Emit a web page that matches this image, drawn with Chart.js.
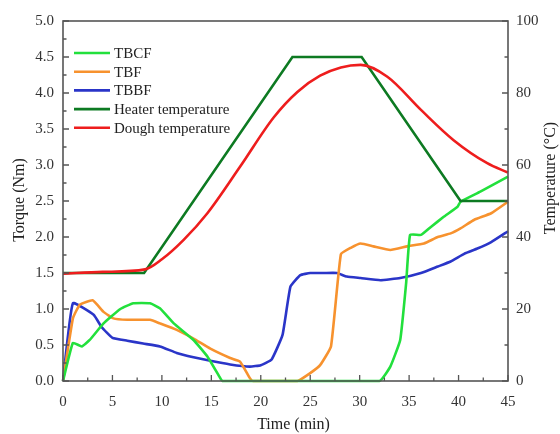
<!DOCTYPE html>
<html>
<head>
<meta charset="utf-8">
<script src="https://cdn.jsdelivr.net/npm/chart.js@4.4.0/dist/chart.umd.min.js"></script>
<style>
  html, body { margin: 0; padding: 0; background: #fff; }
  #wrap { width: 560px; height: 434px; }
</style>
</head>
<body>
<div id="wrap"><canvas id="torqueChart" width="560" height="434"></canvas></div>
<script>
// torque traces (Nm) against time (min)
const timeTBCF = [0, 1, 1.9, 2.7, 4.1, 5.8, 7.1, 8.8, 9.8, 11.2, 13.2, 14.6, 15.9, 16.1, 32.0, 33.1, 34.1, 34.7, 35.1, 36.2, 37.2, 38.5, 39.9, 40.2, 42.2, 45];
const torqueTBCF = [0, 0.53, 0.48, 0.57, 0.80, 1.00, 1.08, 1.08, 1.01, 0.80, 0.57, 0.34, 0.04, 0, 0, 0.20, 0.57, 1.36, 2.03, 2.03, 2.14, 2.28, 2.42, 2.49, 2.63, 2.84];

const timeTBF = [0, 1, 1.7, 3.0, 4.1, 5.1, 6.5, 8.8, 9.8, 11.5, 13.2, 14.9, 16.9, 17.9, 18.9, 19.2, 23.7, 25, 26, 27.1, 28.1, 29.1, 30.1, 31.4, 33.1, 34.8, 36.5, 37.9, 39.2, 40.2, 41.6, 43.3, 45];
const torqueTBF = [0, 0.87, 1.06, 1.12, 0.96, 0.87, 0.85, 0.85, 0.80, 0.71, 0.59, 0.45, 0.32, 0.27, 0.04, 0, 0, 0.11, 0.22, 0.48, 1.76, 1.85, 1.91, 1.87, 1.82, 1.87, 1.91, 2.00, 2.05, 2.12, 2.24, 2.33, 2.49];

const timeTBBF = [0, 1.0, 3.1, 3.9, 5.0, 6.5, 8.1, 9.8, 11.5, 13.2, 14.9, 16.9, 18.9, 20.0, 21.1, 22.2, 23.0, 24.0, 25.0, 26.4, 27.7, 28.7, 30.1, 32.1, 34.1, 36.2, 37.9, 39.2, 40.6, 41.9, 43.3, 45];
const torqueTBBF = [0, 1.08, 0.92, 0.75, 0.60, 0.56, 0.52, 0.48, 0.39, 0.33, 0.28, 0.23, 0.20, 0.22, 0.30, 0.64, 1.31, 1.47, 1.50, 1.50, 1.50, 1.45, 1.43, 1.40, 1.43, 1.50, 1.59, 1.66, 1.77, 1.84, 1.93, 2.08];

// temperatures (°C)
const timeHeater = [0, 8.2, 23.2, 30.2, 40.2, 45];
const tempHeater = [30, 30, 90, 90, 50, 50];

const timeDough = [0, 4, 8.3, 10, 12.2, 14.6, 17.9, 21.3, 23.7, 26, 28.1, 30.1, 32.8, 36.2, 39.5, 42.9, 45];
const tempDough = [29.8, 30.3, 31, 33.8, 39.2, 46.6, 59.5, 73.2, 80.3, 84.8, 87.1, 87.8, 84.5, 75.3, 66.9, 60.5, 57.9];

const seriesNames = ["TBCF", "TBF", "TBBF", "Heater temperature", "Dough temperature"];
const seriesColors = ["#22e03c", "#f7922e", "#2a35c8", "#0d7a22", "#ee1d1d"];

const xTicks = [0, 5, 10, 15, 20, 25, 30, 35, 40, 45];

const SERIF = "'Liberation Serif', 'Times New Roman', serif";

function pts(xs, ys) {
  return xs.map((x, i) => ({ x: x, y: ys[i] }));
}

function makeSet(i, xs, ys, axis, order, extra) {
  return Object.assign({
    label: seriesNames[i],
    data: pts(xs, ys),
    yAxisID: axis,
    borderColor: seriesColors[i],
    backgroundColor: seriesColors[i],
    borderWidth: 2.6,
    pointRadius: 0,
    tension: 0.12,
    fill: false,
    clip: 5,
    order: order,
  }, extra || {});
}

// frame, inward ticks, axis titles and legend
const decorPlugin = {
  id: "decor",
  afterDraw(chart) {
    const ctx = chart.ctx;
    const a = chart.chartArea;
    const sx = chart.scales.x, sy = chart.scales.y, sy1 = chart.scales.y1;
    ctx.save();
    ctx.strokeStyle = "#555";
    ctx.lineWidth = 1.6;
    ctx.strokeRect(a.left, a.top, a.right - a.left, a.bottom - a.top);

    ctx.lineWidth = 1.3;
    ctx.beginPath();
    for (let v = 0; v <= 45.001; v += 2.5) {
      const px = sx.getPixelForValue(v);
      const len = Math.abs(v % 5) < 0.01 ? 6 : 3.5;
      ctx.moveTo(px, a.bottom);
      ctx.lineTo(px, a.bottom - len);
    }
    for (let v = 0; v <= 5.001; v += 0.25) {
      const py = sy.getPixelForValue(v);
      const len = Math.abs((v * 2) % 1) < 0.01 ? 6 : 3.5;
      ctx.moveTo(a.left, py);
      ctx.lineTo(a.left + len, py);
    }
    for (let v = 0; v <= 100.001; v += 10) {
      const py = sy1.getPixelForValue(v);
      const len = Math.abs(v % 20) < 0.01 ? 6 : 3.5;
      ctx.moveTo(a.right, py);
      ctx.lineTo(a.right - len, py);
    }
    ctx.stroke();

    // axis titles
    ctx.fillStyle = "#222";
    ctx.font = "16px " + SERIF;
    ctx.textAlign = "center";
    ctx.textBaseline = "middle";
    ctx.fillText("Time (min)", (a.left + a.right) / 2 + 8, 425);

    ctx.save();
    ctx.translate(20, 200);
    ctx.rotate(-Math.PI / 2);
    ctx.fillText("Torque (Nm)", 0, 0);
    ctx.restore();

    ctx.save();
    ctx.translate(551, 178);
    ctx.rotate(-Math.PI / 2);
    ctx.fillText("Temperature (°C)", 0, 0);
    ctx.restore();

    // legend
    ctx.font = "15px " + SERIF;
    ctx.textAlign = "left";
    ctx.lineWidth = 2.6;
    chart.data.datasets.forEach((ds, i) => {
      const y = a.top + 32 + i * 18.7;
      ctx.strokeStyle = ds.borderColor;
      ctx.beginPath();
      ctx.moveTo(a.left + 11, y);
      ctx.lineTo(a.left + 47, y);
      ctx.stroke();
      ctx.fillStyle = "#222";
      ctx.fillText(ds.label, a.left + 51, y + 1);
    });
    ctx.restore();
  }
};

const tickFont = { family: SERIF, size: 15 };

new Chart(document.getElementById("torqueChart").getContext("2d"), {
  type: "line",
  data: {
    datasets: [
      makeSet(0, timeTBCF, torqueTBCF, "y", 2),
      makeSet(1, timeTBF, torqueTBF, "y", 2),
      makeSet(2, timeTBBF, torqueTBBF, "y", 2),
      makeSet(3, timeHeater, tempHeater, "y1", 1, { tension: 0 }),
      makeSet(4, timeDough, tempDough, "y1", 0, { cubicInterpolationMode: "monotone" }),
    ],
  },
  options: {
    responsive: false,
    animation: false,
    layout: { padding: { top: 21, left: 0, right: 0, bottom: 0 } },
    plugins: { legend: { display: false }, tooltip: { enabled: false } },
    scales: {
      x: {
        type: "linear",
        min: 0,
        max: 45,
        afterBuildTicks: (s) => { s.ticks = xTicks.map((v) => ({ value: v })); },
        afterFit: (s) => { s.height = 53; },
        grid: { display: false, drawTicks: false },
        border: { display: false },
        ticks: { font: tickFont, color: "#333", padding: 12, maxRotation: 0 },
      },
      y: {
        position: "left",
        min: 0,
        max: 5,
        afterFit: (s) => { s.width = 63; },
        grid: { display: false, drawTicks: false },
        border: { display: false },
        ticks: { stepSize: 0.5, font: tickFont, color: "#333", padding: 9,
          callback: (v) => v.toFixed(1) },
      },
      y1: {
        position: "right",
        min: 0,
        max: 100,
        afterFit: (s) => { s.width = 52; },
        grid: { display: false, drawTicks: false },
        border: { display: false },
        ticks: { stepSize: 20, font: tickFont, color: "#333", padding: 8 },
      },
    },
  },
  plugins: [decorPlugin],
});
</script>
</body>
</html>
